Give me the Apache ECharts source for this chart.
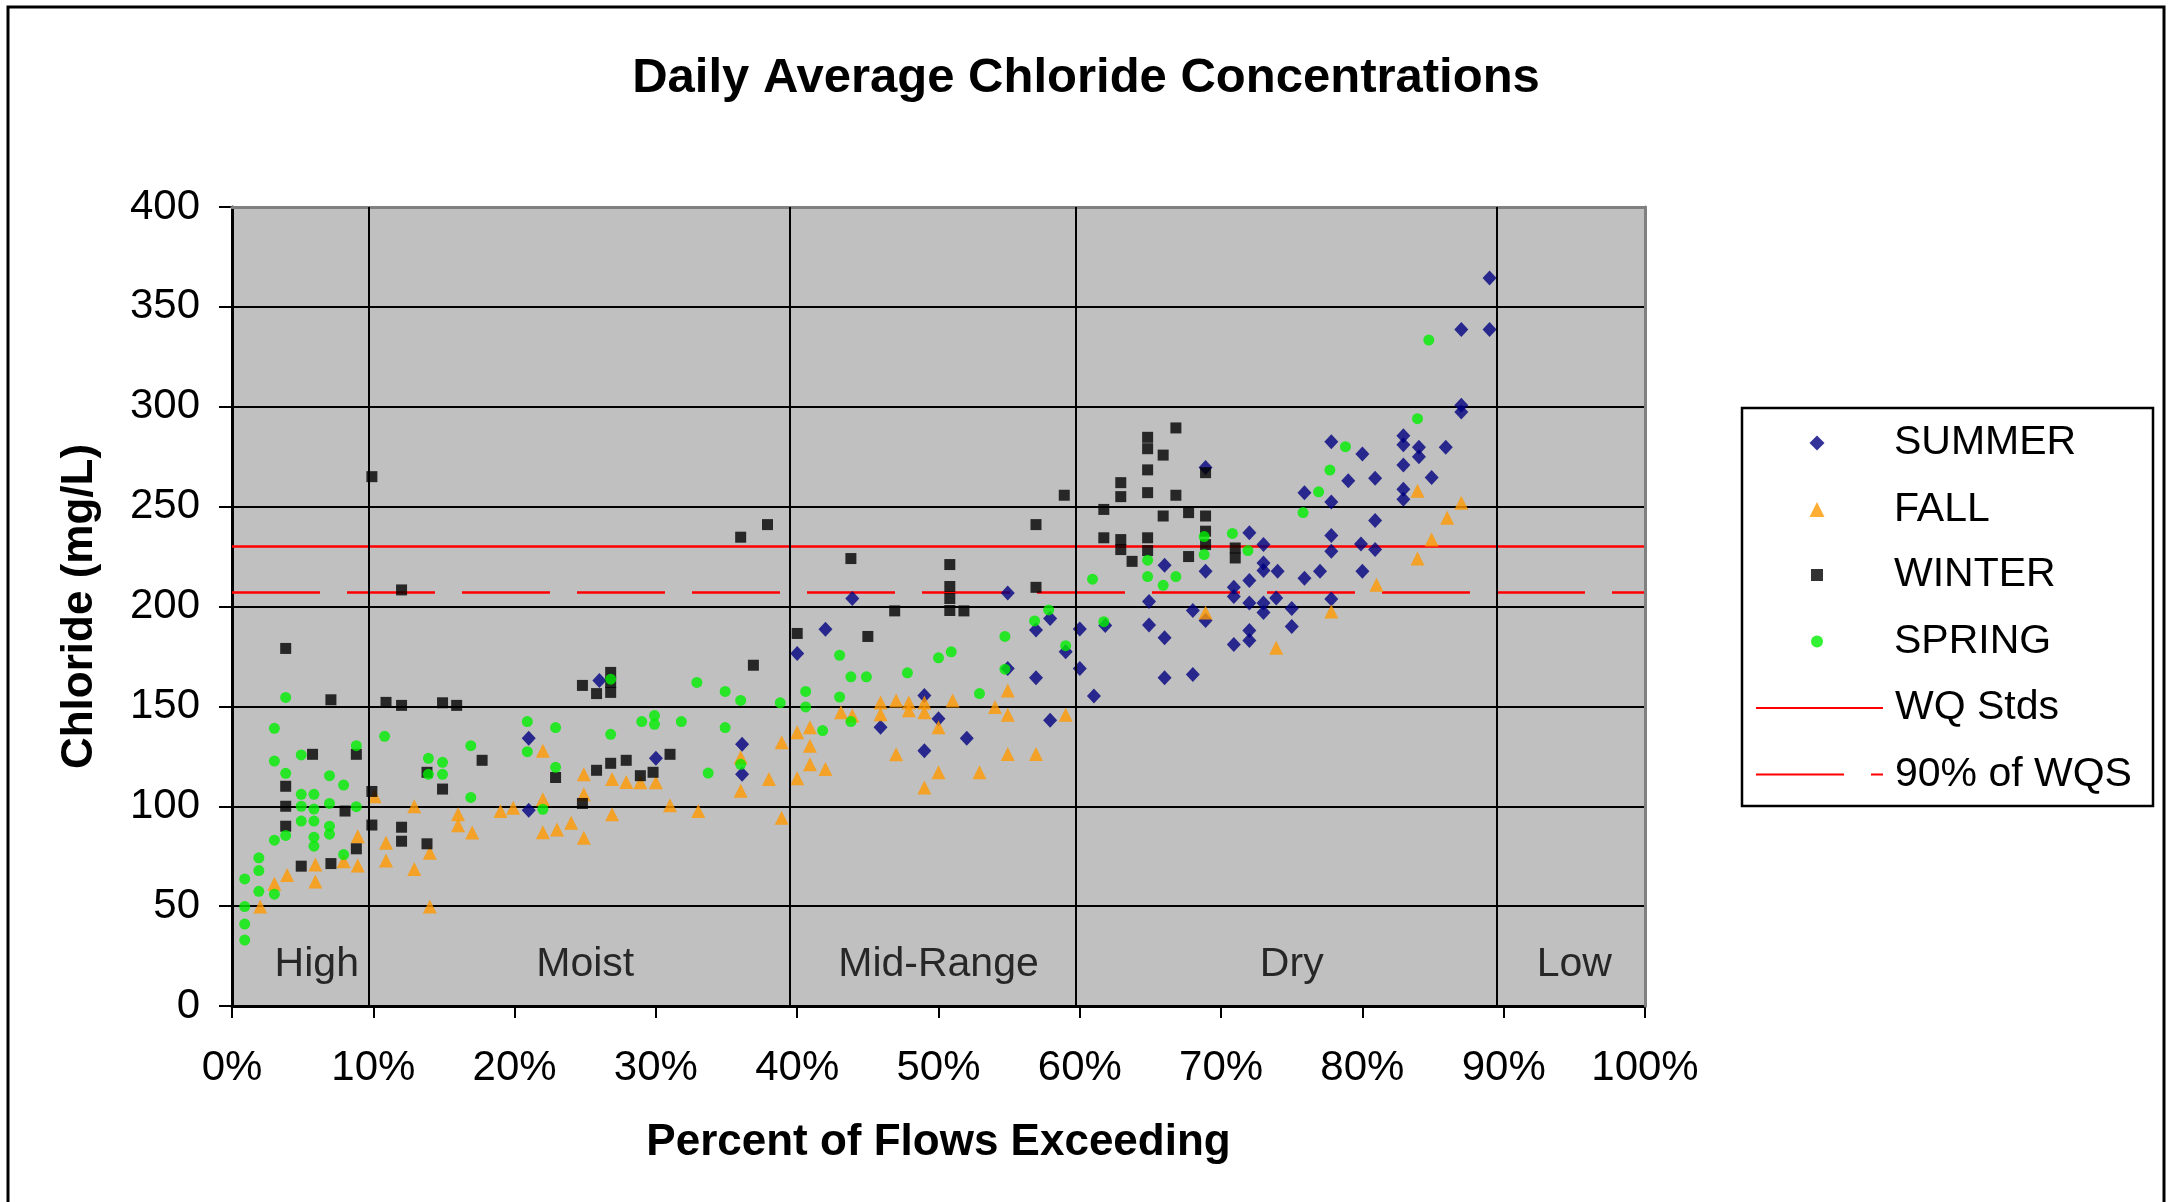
<!DOCTYPE html>
<html><head><meta charset="utf-8">
<script src="https://cdn.jsdelivr.net/npm/echarts@6/dist/echarts.min.js"></script>
<style>html,body{margin:0;padding:0;background:#fff}#c{width:2172px;height:1202px}</style>
</head><body><div id="c"></div><script>
const FONT = "'Liberation Sans', Arial, sans-serif";

// [percent of flows exceeding, chloride mg/L]
const summer = [[21,134],[21,98],[26,163],[30,124],[36.1,131],[36.1,116],[40,176.5],[42,188.6],[43.9,204],[45.9,139.6],[49,155.5],[49,127.8],[50,143.8],[52,134],[54.9,206.7],[54.9,169],[56.9,188.2],[56.9,164.3],[57.9,194],[57.9,143],[59,177.3],[60,188.7],[60,169],[61,155.2],[61.8,190.5],[64.9,202.5],[64.9,190.8],[66,220.6],[66,184.4],[66,164.3],[68,198],[68,166],[68.9,269.6],[68.9,217.6],[68.9,193],[70.9,209.6],[70.9,205],[70.9,181],[72,236.9],[72,213],[72,201.7],[72,188],[72,183],[73,231],[73,221.8],[73,218],[73,201.7],[73,197],[73.9,204.2],[74,217.6],[75,199],[75,190],[75.9,257],[75.9,214.2],[77,217.6],[77.8,282.5],[77.8,252.3],[77.8,235.5],[77.8,227.7],[77.8,203.8],[79,263],[79.9,231.3],[80,276.3],[80,217.6],[80.9,264.2],[80.9,243],[80.9,228.5],[82.9,285.5],[82.9,281],[82.9,270.8],[82.9,258.7],[82.9,253.7],[84,279.7],[84,275],[84.9,264.6],[85.9,279.7],[87,338.7],[87,300.7],[87,297.4],[89,364.4],[89,338.7]];
const fall = [[2,49.8],[3,61.2],[3.9,65.6],[5.9,70.8],[5.9,62.3],[7.9,72.5],[8.9,85],[8.9,70.3],[10.1,105],[10.9,81.7],[10.9,72.8],[12.9,100],[12.9,68.6],[14,76.7],[14,49.8],[16,96],[16,90.5],[17,86.8],[19,97.6],[19.9,99.3],[22,127.8],[22,103.5],[22,87],[23,88.4],[24,91.8],[24.9,116],[24.9,106],[24.9,84.2],[26.9,113.6],[26.9,96],[27.9,112.2],[28.9,112],[30,112],[31,100.5],[33,97.6],[36,124.5],[36,107.7],[38,113.6],[38.9,132],[38.9,94.3],[40,137],[40,114],[40.9,139.6],[40.9,130.3],[40.9,121],[42,118.6],[43.1,147],[43.9,145.4],[45.9,152],[45.9,146],[47,153],[47,126],[47.9,152],[47.9,148],[49,152],[49,147],[49,109.4],[50,139.6],[50,117],[51,153],[52.9,117],[54,149.7],[54.9,158],[54.9,145.8],[54.9,126.2],[56.9,126.2],[59,145.8],[68.9,197],[73.9,179.4],[77.8,197.5],[81,210.9],[83.9,258],[83.9,224],[84.9,233.5],[86,244.4],[87,252]];
const winter = [[3.8,179],[3.8,110],[3.8,100],[3.8,90],[4.9,70],[5.7,126],[7,153.3],[7,71.3],[8,97.6],[8.8,126],[8.8,78.7],[9.9,265],[9.9,107.4],[9.9,90.6],[10.9,152],[12,208.3],[12,150.5],[12,89.5],[12,82.5],[13.8,117],[13.8,81.2],[14.9,151.8],[14.9,108.6],[15.9,150.5],[17.7,123],[22.9,114.4],[24.8,160.5],[24.8,101.4],[25.8,156.4],[25.8,118],[26.8,167],[26.8,162],[26.8,157],[26.8,121.5],[27.9,123],[28.9,115.3],[29.8,117],[31,126],[36,234.7],[36.9,170.6],[37.9,241],[40,186.5],[43.8,224],[45,185],[46.9,197.8],[50.8,221],[50.8,210],[50.8,204],[50.8,198],[51.8,197.8],[56.9,241],[56.9,209.6],[58.9,255.7],[61.7,248.6],[61.7,234.4],[62.9,262],[62.9,255],[62.9,233.5],[62.9,228.5],[63.7,222.6],[64.8,284.7],[64.8,279],[64.8,268.4],[64.8,257],[64.8,234.4],[64.8,228],[65.9,275.8],[65.9,245.3],[66.8,289.4],[66.8,255.7],[67.7,247],[67.7,225],[68.9,267],[68.9,245.3],[68.9,237.7],[68.9,231],[71,229.3],[71,224.3]];
const spring = [[0.9,63.6],[0.9,49.8],[0.9,41],[0.9,33],[1.9,74.2],[1.9,67.8],[1.9,57.4],[3,139],[3,122.6],[3,83],[3,56],[3.8,154.5],[3.8,116.5],[3.8,85.4],[4.9,125.7],[4.9,106],[4.9,100],[4.9,92.6],[5.8,106],[5.8,98.6],[5.8,92.6],[5.8,84.5],[5.8,80],[6.9,115.3],[6.9,101.4],[6.9,90],[6.9,86],[7.9,110.6],[7.9,75.8],[8.8,130.3],[8.8,99.8],[10.8,135],[13.9,124],[13.9,116],[14.9,122],[14.9,116],[16.9,130.3],[16.9,104.4],[20.9,142.4],[20.9,127.3],[22,98.5],[22.9,139.4],[22.9,119.5],[26.8,163.6],[26.8,136],[29,142.4],[29.9,145.4],[29.9,141],[31.8,142.4],[32.9,162],[33.7,116.6],[34.9,157.5],[34.9,139.4],[36,153],[36,121],[38.8,151.8],[40.6,157.5],[40.6,149.7],[41.8,137.9],[43,175.6],[43,154.7],[43.8,164.8],[43.8,142.4],[44.9,164.8],[47.8,166.8],[50,174.3],[50.9,177.3],[52.9,156.4],[54.7,185],[54.7,168.6],[56.8,192.8],[57.8,198.3],[59,180.4],[60.9,213.7],[61.7,192.4],[64.8,223.2],[64.8,215],[65.9,210.6],[66.8,215],[68.8,235],[68.8,226],[70.8,236.6],[71.9,228],[75.8,247],[76.9,257.4],[77.7,268.3],[78.8,280],[83.9,294],[84.7,333.4]];

const wqStd = [[0,230],[100,230]];
const wq90 = [[0,207],[100,207]];
const flowBreaks = [9.7, 39.5, 59.7, 89.5];
const zoneNames = ['High','Moist','Mid-Range','Dry','Low'];
const zoneCenters = [6, 25, 50, 75, 95];
const zoneLabelY = 20.5;
const legendBig = ['SUMMER','FALL'];
const legendSmall = ['WINTER','SPRING'];
const legendLines = ['WQ Stds','90% of WQS'];

const legendText = (padLeft) => ({fontFamily:FONT, fontSize:41, color:'#000', lineHeight:46, padding:[0,0,0,padLeft]});

const chart = echarts.init(document.getElementById('c'), null, {renderer:'canvas'});
chart.setOption({
  animation:false,
  backgroundColor:'#ffffff',
  title:{text:'Daily Average Chloride Concentrations', left:'center', top:54, padding:0,
    textStyle:{fontFamily:FONT, fontSize:49, fontWeight:'bold', color:'#000'}},
  grid:{left:232, top:207, width:1413, height:799, show:true, backgroundColor:'#c0c0c0', borderWidth:0},
  legend:[
    {data:legendBig, orient:'vertical', left:1809.5, top:420, padding:0,
      itemWidth:15, itemHeight:15, itemGap:20.5, selectedMode:false, textStyle:legendText(64.5)},
    {data:legendSmall, orient:'vertical', left:1811, top:552, padding:0,
      itemWidth:12, itemHeight:12, itemGap:20.5, selectedMode:false, textStyle:legendText(66)},
    {data:legendLines, orient:'vertical', left:1755, top:685, padding:0,
      itemWidth:127, itemHeight:15, itemGap:20.5, selectedMode:false, textStyle:legendText(7),
      itemStyle:{opacity:0}}
  ],
  xAxis:[{type:'value', min:0, max:100, interval:10,
    axisLine:{show:true, onZero:false, lineStyle:{color:'#000', width:3}},
    axisTick:{show:true, inside:false, length:12, lineStyle:{color:'#000', width:2}},
    axisLabel:{formatter:'{value}%', fontFamily:FONT, fontSize:42, color:'#000', margin:41},
    splitLine:{show:false},
    name:'Percent of Flows Exceeding', nameLocation:'middle', nameGap:115,
    nameTextStyle:{fontFamily:FONT, fontSize:44, fontWeight:'bold', color:'#000'}},
   {type:'value', position:'top', min:0, max:100, z:3,
    axisLine:{show:true, onZero:false, lineStyle:{color:'#808080', width:3}},
    axisTick:{show:false}, axisLabel:{show:false}, splitLine:{show:false}}],
  yAxis:[{type:'value', min:0, max:400, interval:50,
    axisLine:{show:true, onZero:false, lineStyle:{color:'#000', width:3}},
    axisTick:{show:true, inside:false, length:13, lineStyle:{color:'#000', width:2}},
    axisLabel:{fontFamily:FONT, fontSize:42, color:'#000', margin:32},
    splitLine:{show:true, lineStyle:{color:'#000', width:2}},
    name:'Chloride (mg/L)', nameLocation:'middle', nameGap:130, nameRotate:90,
    nameTextStyle:{fontFamily:FONT, fontSize:44, fontWeight:'bold', color:'#000'}},
   {type:'value', position:'right', min:0, max:400, z:3,
    axisLine:{show:true, onZero:false, lineStyle:{color:'#808080', width:3}},
    axisTick:{show:false}, axisLabel:{show:false}, splitLine:{show:false}}],
  graphic:[
    {type:'rect', shape:{x:8, y:7, width:2156, height:1230}, style:{fill:'none', stroke:'#000', lineWidth:3}, silent:true},
    {type:'rect', shape:{x:1742, y:408, width:411, height:398}, style:{fill:'none', stroke:'#000', lineWidth:2.5}, silent:true}
  ],
  series:[
    {type:'line', data:[], silent:true, z:1,
      markLine:{silent:true, symbol:'none', animation:false, label:{show:false},
        lineStyle:{color:'#000', width:2, type:'solid'},
        data:flowBreaks.map(v=>({xAxis:v}))}},
    {name:'WQ Stds', type:'line', data:wqStd, symbol:'none', silent:true, z:2,
      lineStyle:{color:'#ff0000', width:2.5}, itemStyle:{color:'#ff0000'}},
    {name:'90% of WQS', type:'line', data:wq90, symbol:'none', silent:true, z:2,
      lineStyle:{color:'#ff0000', width:2.5, type:[88,27]}, itemStyle:{color:'#ff0000'}},
    {name:'SUMMER', type:'scatter', data:summer, symbol:'diamond', symbolSize:[14,15], z:3,
      itemStyle:{color:'#000080'}},
    {name:'FALL', type:'scatter', data:fall, symbol:'triangle', symbolSize:[14,14], z:4,
      itemStyle:{color:'#ff9900'}},
    {name:'WINTER', type:'scatter', data:winter, symbol:'rect', symbolSize:11, z:5,
      itemStyle:{color:'#000000'}},
    {name:'SPRING', type:'scatter', data:spring, symbol:'circle', symbolSize:11, z:6,
      itemStyle:{color:'#00ee00'}},
    {type:'scatter', data:zoneCenters.map((x,i)=>[x, zoneLabelY, zoneNames[i]]), symbolSize:1, silent:true, z:7,
      itemStyle:{color:'rgba(0,0,0,0)'},
      label:{show:true, position:'inside', formatter:p=>p.value[2], fontFamily:FONT, fontSize:41, color:'#000'}}
  ]
});
</script></body></html>
